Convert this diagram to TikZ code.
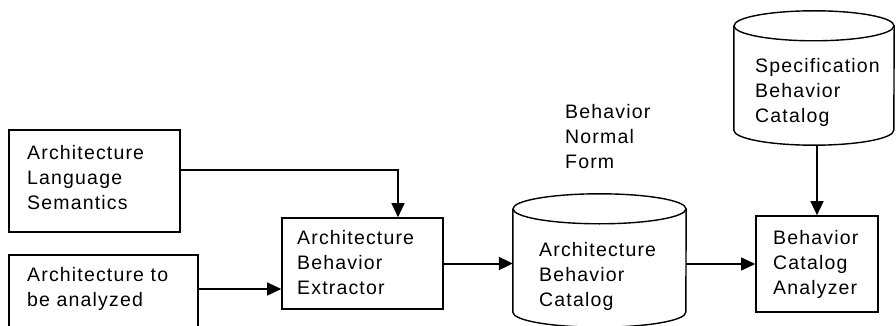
\documentclass[tikz,border=0pt]{standalone}
\usepackage{fontspec}
\setmainfont{Liberation Sans}[LetterSpace=6]
\usetikzlibrary{arrows.meta,calc}

\tikzset{
  boxshape/.style={draw=black, line width=1.6pt, rectangle, inner sep=0pt},
  cylbody/.style={draw=none, rectangle, inner sep=0pt},
  cylline/.style={draw=black, line width=1.4pt},
  lbl/.style={align=left, inner sep=0pt, anchor=west,
    font=\fontsize{19.5}{25}\selectfont},
  arr/.style={draw=black, line width=1.2pt,
    -{Triangle[length=14pt,width=13pt]}},
  thickarr/.style={arr, line width=2pt}
}

\begin{document}
\begin{tikzpicture}[x=1pt,y=1pt]
  \useasboundingbox (0,0) rectangle (896,-326);

  % input boxes on the left
  \node[boxshape, minimum width=171pt, minimum height=102pt] (sem) at (94.5,-181) {};
  \node[lbl] (semtext) at (27,-178) {Architecture\\Language\\Semantics};

  \node[boxshape, minimum width=189pt, minimum height=90pt] (src) at (103.5,-300) {};
  \node[lbl] (srctext) at (27,-289) {Architecture to\\be analyzed};

  % extractor
  \node[boxshape, minimum width=161pt, minimum height=91pt] (ext) at (362.5,-263.5) {};
  \node[lbl] (exttext) at (297,-263) {Architecture\\Behavior\\Extractor};

  % architecture behavior catalog (cylinder)
  \node[cylbody, minimum width=173pt, minimum height=103pt] (arch) at (599.5,-260.5) {};
  \draw[cylline] (arch.north) ellipse [x radius=86.5pt, y radius=15pt];
  \draw[cylline] (arch.north west) -- (arch.south west)
    arc[start angle=180, end angle=360, x radius=86.5pt, y radius=15pt]
    -- (arch.north east);
  \node[lbl] (archtext) at (539,-276) {Architecture\\Behavior\\Catalog};

  \node[lbl] (bnf) at (565,-137) {Behavior\\Normal\\Form};

  % specification behavior catalog (cylinder)
  \node[cylbody, minimum width=160pt, minimum height=104pt] (spec) at (814,-78) {};
  \draw[cylline] (spec.north) ellipse [x radius=80pt, y radius=15pt];
  \draw[cylline] (spec.north west) -- (spec.south west)
    arc[start angle=180, end angle=360, x radius=80pt, y radius=15pt]
    -- (spec.north east);
  \coordinate (specbot) at ($(spec.south)+(0,-15)$);
  \node[lbl] (spectext) at (755,-92) {Specification\\Behavior\\Catalog};

  % analyzer
  \node[boxshape, minimum width=122pt, minimum height=96pt] (ana) at (817,-264) {};
  \node[lbl] (anatext) at (773,-264) {Behavior\\Catalog\\Analyzer};

  % connectors
  \coordinate (semout) at ($(sem.east)+(0,11)$);
  \coordinate (extin) at ($(ext.north)+(35.5,0)$);
  \draw[arr] (semout) -| (extin);
  \draw[arr] (src.east |- srctext) -- (ext.west |- srctext);
  \draw[thickarr] (ext.east) -- (ext.east -| arch.west);
  \draw[arr] (arch.east |- ana) -- (ana.west);
  \draw[arr] (ana.north |- specbot) -- (ana.north);
\end{tikzpicture}
\end{document}
